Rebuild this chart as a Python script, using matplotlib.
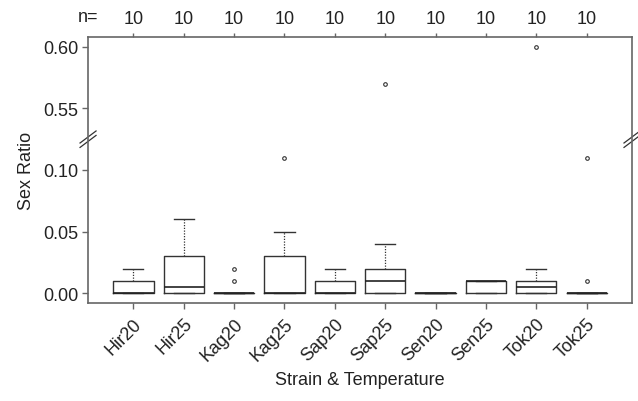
import matplotlib
matplotlib.use('Agg')
import matplotlib.pyplot as plt
import matplotlib.transforms as mtransforms

plt.rcParams['font.family'] = ['Liberation Sans', 'DejaVu Sans']

# Box statistics (values in Sex Ratio units)
groups = ['Hir20', 'Hir25', 'Kag20', 'Kag25', 'Sap20',
          'Sap25', 'Sen20', 'Sen25', 'Tok20', 'Tok25']
n_obs = [10, 10, 10, 10, 10, 10, 10, 10, 10, 10]
q1 = [0.0, 0.0, 0.0, 0.0, 0.0, 0.0, 0.0, 0.0, 0.0, 0.0]
medians = [0.0, 0.005, 0.0, 0.0, 0.0, 0.01, 0.0, 0.01, 0.005, 0.0]
q3 = [0.01, 0.03, 0.0, 0.03, 0.01, 0.02, 0.0, 0.01, 0.01, 0.0]
whis_lo = [0.0, 0.0, 0.0, 0.0, 0.0, 0.0, 0.0, 0.0, 0.0, 0.0]
whis_hi = [0.02, 0.06, 0.0, 0.05, 0.02, 0.04, 0.0, 0.01, 0.02, 0.0]
outliers = [[], [], [0.01, 0.02], [0.11], [],
            [0.57], [], [], [0.60], [0.01, 0.11]]

# broken axis: values above the break are shifted down by this amount
break_at = 0.125
shift = 0.40
ytick_vals = [0.00, 0.05, 0.10, 0.55, 0.60]


def squash(v):
    return v - shift if v > break_at + shift else v


stats = []
for i in range(len(groups)):
    stats.append({
        'label': groups[i],
        'q1': q1[i], 'med': medians[i], 'q3': q3[i],
        'whislo': whis_lo[i], 'whishi': whis_hi[i],
        'fliers': [squash(v) for v in outliers[i]],
    })

line_col = '#333333'
spine_col = '#666666'
text_col = '#222222'
fs = 13

fig = plt.figure(figsize=(6.38, 4.02), dpi=100)
ax = fig.add_axes([0.138, 0.2438, 0.8526, 0.6617])

ax.bxp(stats, positions=range(1, len(groups) + 1), widths=0.8,
       showfliers=True,
       boxprops=dict(color=line_col, linewidth=1.0),
       medianprops=dict(color='#222222', linewidth=1.2),
       whiskerprops=dict(color=line_col, linewidth=0.9, linestyle=(0, (1, 1.2))),
       capprops=dict(color=line_col, linewidth=1.0),
       capwidths=0.4,
       flierprops=dict(marker='o', markersize=2.6, markerfacecolor='none',
                       markeredgecolor=line_col, markeredgewidth=0.8))

ax.set_xlim(0.1, 10.9)
ax.set_ylim(-0.008, 0.208)

ax.set_yticks([squash(v) for v in ytick_vals])
ax.set_yticklabels(['%.2f' % v for v in ytick_vals])
ax.set_xticks(range(1, len(groups) + 1))
ax.set_xticklabels(groups, rotation=45, ha='right', va='top',
                   rotation_mode='anchor')

for s in ax.spines.values():
    s.set_color(spine_col)
    s.set_linewidth(1.2)

ax.tick_params(axis='both', colors=spine_col, labelcolor=text_col,
               labelsize=fs, length=4, width=1.0)
ax.tick_params(axis='x', pad=4.5)
ax.tick_params(axis='y', pad=3)

# sample sizes along the top
top = ax.secondary_xaxis('top')
top.set_xticks(range(1, len(groups) + 1))
top.set_xticklabels([str(n) for n in n_obs])
top.tick_params(colors=spine_col, labelcolor=text_col, labelsize=fs,
                length=3, width=1.0, pad=4)
top.spines['top'].set_visible(False)
ax.text(0.0, 1.045, 'n=', transform=ax.transAxes, ha='center', va='bottom',
        fontsize=fs, color=text_col)

ax.set_ylabel('Sex Ratio', fontsize=fs, color=text_col, labelpad=6)
ax.set_xlabel('Strain & Temperature', fontsize=fs, color=text_col,
              labelpad=5)

# break marks on both vertical spines
trans = mtransforms.blended_transform_factory(ax.transAxes, ax.transData)
dx = 8 / 544
dy = 6 / 1230
for xs in (0.0, 1.0):
    for off in (-0.0018, 0.0018):
        ax.plot([xs - dx, xs + dx], [break_at + off - dy, break_at + off + dy],
                transform=trans, color='#333333', lw=0.9, clip_on=False)

fig.savefig('out.png', dpi=100)
